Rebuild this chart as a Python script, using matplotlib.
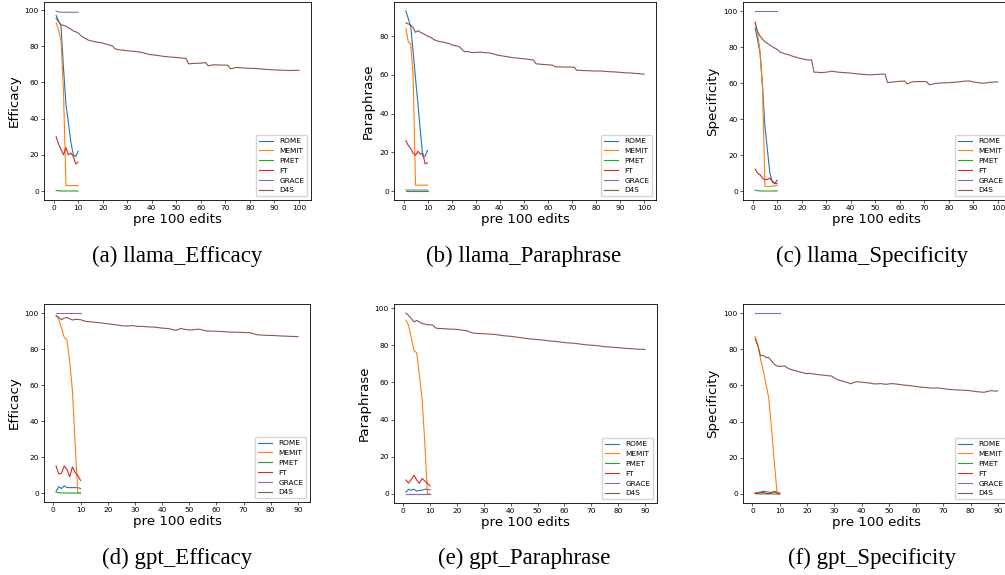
import numpy as np
import matplotlib
matplotlib.use("Agg")
import matplotlib.pyplot as plt

# methods, in drawing order
methods = ["ROME", "MEMIT", "PMET", "FT", "GRACE", "D4S"]
colors = ["tab:blue", "tab:orange", "tab:green", "tab:red", "tab:purple", "tab:brown"]

# ---- llama: short runs (10 points) ----
rome_llama_eff = [97, 94, 91, 68, 48, 38, 27, 20, 19, 22]
memit_llama_eff = [93, 89, 83, 55, 3, 3, 3, 3, 3, 3]
pmet_llama_eff = [0.3, 0.1, 0, 0, 0, 0, 0, 0, 0, 0]
ft_llama_eff = [30, 26, 23, 20, 24, 20, 21, 19, 15, 16]
grace_llama_eff = [99.5, 99, 98.8, 98.8, 98.8, 98.8, 98.8, 98.8, 98.8, 98.8]

rome_llama_para = [93, 89, 85, 72, 58, 45, 31, 18, 18, 21]
memit_llama_para = [84, 77, 76, 60, 3, 3, 3, 3, 3, 3]
pmet_llama_para = [0, 0, 0, 0, 0, 0, 0, 0, 0, 0]
ft_llama_para = [26, 23.5, 22, 19.5, 18.5, 20.5, 19, 19.5, 14, 14.5]
grace_llama_para = [0.6, 0.5, 0.5, 0.5, 0.5, 0.5, 0.5, 0.5, 0.5, 0.5]

rome_llama_spec = [90.5, 84, 76.5, 58, 36, 23, 10, 5, 4.5, 4]
memit_llama_spec = [94, 88, 77.5, 59, 2.5, 2.5, 2.5, 2.8, 2.8, 3]
pmet_llama_spec = [0.5, 0.2, 0, 0, 0, 0, 0, 0, 0, 0]
ft_llama_spec = [12.2, 10, 9, 7.2, 6.3, 6.4, 7.2, 5.4, 4, 6]
grace_llama_spec = [100, 100, 100, 100, 100, 100, 100, 100, 100, 100]

# ---- llama: D4S (100 points) ----
d4s_llama_eff = [
    95.5, 93.5, 92.0, 91.5, 91.2, 90.2, 89.5, 88.5, 88.0, 87.3,
    86.0, 85.0, 84.3, 83.5, 83.0, 82.8, 82.5, 82.2, 82.0, 81.8,
    81.3, 81.0, 80.5, 80.2, 78.6, 78.3, 78.0, 77.8, 77.7, 77.5,
    77.4, 77.3, 77.2, 77.0, 76.8, 76.6, 76.2, 75.8, 75.5, 75.3,
    75.2, 75.0, 74.8, 74.6, 74.4, 74.3, 74.1, 74.0, 73.9, 73.8,
    73.7, 73.5, 73.4, 73.3, 70.3, 70.4, 70.5, 70.6, 70.6, 70.7,
    70.8, 71.0, 69.2, 69.4, 69.8, 69.7, 69.7, 69.6, 69.6, 69.6,
    69.5, 67.6, 67.8, 68.2, 68.3, 68.2, 68.0, 68.0, 67.9, 67.8,
    67.8, 67.7, 67.6, 67.6, 67.4, 67.3, 67.2, 67.1, 67.0, 67.0,
    66.9, 66.8, 66.8, 66.7, 66.7, 66.6, 66.6, 66.7, 66.7, 66.7,
]
d4s_llama_para = [
    86.9, 86.3, 85.7, 84.5, 82.0, 82.8, 82.0, 81.4, 80.8, 80.0,
    79.5, 78.8, 78.0, 77.6, 77.2, 77.0, 76.8, 76.4, 76.2, 75.6,
    75.2, 75.0, 74.6, 73.6, 72.2, 72.0, 72.0, 71.6, 71.5, 71.6,
    71.7, 71.8, 71.6, 71.5, 71.4, 71.2, 71.0, 70.6, 70.2, 70.0,
    69.8, 69.6, 69.4, 69.2, 69.0, 68.8, 68.7, 68.6, 68.4, 68.3,
    68.2, 68.0, 67.8, 67.7, 65.8, 65.6, 65.5, 65.4, 65.3, 65.2,
    65.1, 65.0, 64.2, 64.1, 64.2, 64.1, 64.0, 64.0, 64.1, 64.0,
    63.9, 62.3, 62.4, 62.3, 62.2, 62.2, 62.1, 62.1, 62.0, 62.0,
    62.0, 62.0, 61.9, 61.8, 61.7, 61.6, 61.6, 61.5, 61.4, 61.3,
    61.2, 61.1, 61.0, 61.0, 60.9, 60.8, 60.7, 60.6, 60.5, 60.4,
]
d4s_llama_spec = [
    93.5, 88.5, 86.0, 84.3, 83.0, 82.0, 81.0, 80.2, 79.4, 78.7,
    77.2, 76.8, 76.3, 75.9, 75.6, 75.0, 74.6, 74.2, 73.8, 73.5,
    73.2, 72.9, 72.8, 72.9, 66.0, 66.0, 65.9, 65.8, 65.9, 66.0,
    66.2, 66.6, 66.4, 66.2, 66.0, 65.9, 65.8, 65.7, 65.6, 65.5,
    65.3, 65.2, 65.0, 64.9, 64.8, 64.7, 64.6, 64.5, 64.6, 64.7,
    64.8, 64.9, 64.9, 64.9, 60.3, 60.4, 60.5, 60.7, 60.8, 61.0,
    61.0, 61.1, 59.5, 60.0, 60.6, 60.7, 60.8, 60.8, 60.8, 60.8,
    60.7, 59.0, 59.3, 59.6, 59.8, 60.0, 60.0, 60.1, 60.1, 60.2,
    60.3, 60.4, 60.5, 60.6, 60.8, 61.0, 61.1, 61.1, 61.0, 60.6,
    60.4, 60.2, 60.0, 59.9, 60.0, 60.2, 60.4, 60.5, 60.6, 60.6,
]

# ---- gpt: short runs (10 points) ----
rome_gpt_eff = [1, 3.5, 2.5, 4, 3, 3, 3, 3, 3, 2.5]
memit_gpt_eff = [98.5, 96.5, 91.5, 86.5, 85, 73, 57, 28, 0, 0]
pmet_gpt_eff = [0.5, 0.2, 0, 0, 0, 0, 0, 0, 0, 0]
ft_gpt_eff = [15, 10.5, 11, 15, 13, 9, 14.5, 11.5, 9.5, 7]
grace_gpt_eff = [100, 100, 100, 100, 100, 100, 100, 100, 100, 100]

rome_gpt_para = [1, 2.5, 2, 2.5, 1.5, 2, 2, 2.5, 2.5, 2.2]
memit_gpt_para = [93.5, 90.5, 84, 77, 76, 64, 51, 28, 0, 0]
pmet_gpt_para = [0, 0, 0, 0, 0, 0, 0, 0, 0, 0]
ft_gpt_para = [7.5, 5.8, 8, 10, 7.5, 5.7, 8.4, 7, 5.8, 4.3]
grace_gpt_para = [0, 0, 0, 0, 0, 0, 0, 0, 0, 0]

rome_gpt_spec = [0.5, 0.8, 1, 1.5, 1.2, 1, 0.8, 1.2, 1, 0.5]
memit_gpt_spec = [87, 82.5, 74.5, 68, 60.5, 53, 36.5, 18, 1.3, 0.3]
pmet_gpt_spec = [0.2, 0, 0, 0, 0, 0, 0, 0, 0, 0]
ft_gpt_spec = [0.3, 0.5, 0.6, 0.8, 0.3, 0.2, 0.5, 1.5, 0.3, 0]
grace_gpt_spec = [100, 100, 100, 100, 100, 100, 100, 100, 100, 100]

# ---- gpt: D4S (90 points) ----
d4s_gpt_eff = [
    98.5, 97.6, 96.3, 97.2, 97.5, 96.8, 96.1, 96.5, 96.4, 96.3,
    95.8, 95.3, 95.2, 95.0, 94.9, 94.7, 94.6, 94.4, 94.2, 94.0,
    93.8, 93.6, 93.4, 93.2, 93.0, 92.8, 92.8, 92.9, 93.0, 92.8,
    92.6, 92.6, 92.5, 92.4, 92.3, 92.2, 92.2, 92.0, 91.8, 91.6,
    91.5, 91.4, 91.1, 90.8, 90.3, 90.9, 91.4, 91.0, 90.8, 90.6,
    90.6, 90.8, 91.0, 90.9, 90.5, 90.1, 90.0, 90.0, 89.9, 89.8,
    89.8, 89.7, 89.6, 89.5, 89.4, 89.4, 89.3, 89.3, 89.2, 89.2,
    89.1, 89.1, 88.8, 88.3, 87.9, 87.8, 87.7, 87.6, 87.6, 87.5,
    87.5, 87.4, 87.3, 87.2, 87.2, 87.1, 87.0, 87.0, 86.9, 86.9,
]
d4s_gpt_para = [
    97.3, 96.0, 94.3, 92.5, 93.4, 92.5, 91.7, 91.4, 91.0, 91.0,
    90.8, 89.3, 89.0, 89.0, 88.9, 88.8, 88.7, 88.6, 88.6, 88.5,
    88.3, 88.1, 87.9, 87.6, 87.0, 86.5, 86.4, 86.3, 86.2, 86.2,
    86.1, 86.0, 85.9, 85.8, 85.6, 85.4, 85.2, 85.0, 84.9, 84.8,
    84.6, 84.4, 84.2, 84.0, 83.8, 83.6, 83.4, 83.3, 83.2, 83.0,
    82.9, 82.8, 82.6, 82.4, 82.2, 82.1, 82.0, 81.8, 81.6, 81.4,
    81.3, 81.2, 81.1, 81.0, 80.8, 80.6, 80.4, 80.2, 80.1, 80.0,
    79.9, 79.8, 79.6, 79.4, 79.2, 79.1, 79.0, 78.9, 78.8, 78.7,
    78.6, 78.4, 78.3, 78.2, 78.1, 78.0, 77.9, 77.8, 77.8, 77.7,
]
d4s_gpt_spec = [
    85.6, 81.9, 76.3, 76.7, 75.4, 75.4, 73.5, 71.7, 70.7, 70.5,
    70.6, 70.7, 69.5, 68.9, 68.4, 68.0, 67.6, 67.2, 66.8, 66.5,
    66.7, 66.4, 66.2, 66.0, 65.8, 65.7, 65.5, 65.3, 65.2, 64.2,
    63.3, 62.8, 62.4, 62.0, 61.5, 60.9, 61.5, 62.0, 62.0, 61.8,
    61.6, 61.5, 61.3, 61.0, 60.8, 60.9, 61.0, 60.8, 60.6, 60.8,
    61.0, 60.9, 60.7, 60.5, 60.3, 60.1, 60.0, 59.8, 59.6, 59.4,
    59.2, 59.0, 58.9, 58.8, 58.6, 58.5, 58.5, 58.6, 58.4, 58.2,
    58.0, 57.8, 57.7, 57.6, 57.5, 57.4, 57.4, 57.3, 57.2, 57.0,
    56.8, 56.6, 56.4, 56.3, 56.2, 56.6, 57.0, 57.1, 56.8, 57.0,
]

ylabels = ["Efficacy", "Paraphrase", "Specificity"]
captions = ["(a) llama_Efficacy", "(b) llama_Paraphrase", "(c) llama_Specificity",
            "(d) gpt_Efficacy", "(e) gpt_Paraphrase", "(f) gpt_Specificity"]

panels = [
    [rome_llama_eff, memit_llama_eff, pmet_llama_eff, ft_llama_eff, grace_llama_eff, d4s_llama_eff],
    [rome_llama_para, memit_llama_para, pmet_llama_para, ft_llama_para, grace_llama_para, d4s_llama_para],
    [rome_llama_spec, memit_llama_spec, pmet_llama_spec, ft_llama_spec, grace_llama_spec, d4s_llama_spec],
    [rome_gpt_eff, memit_gpt_eff, pmet_gpt_eff, ft_gpt_eff, grace_gpt_eff, d4s_gpt_eff],
    [rome_gpt_para, memit_gpt_para, pmet_gpt_para, ft_gpt_para, grace_gpt_para, d4s_gpt_para],
    [rome_gpt_spec, memit_gpt_spec, pmet_gpt_spec, ft_gpt_spec, grace_gpt_spec, d4s_gpt_spec],
]

W, H = 1005, 575
# axes boxes in pixels: left, top, right, bottom
boxes = [
    (44, 2, 311, 200), (394, 2, 656, 200), (743, 2, 1010, 200),
    (44, 304, 310, 502), (394, 304, 657, 503), (743, 304, 1010, 503),
]
caption_y = [256, 256, 256, 558, 558, 558]
caption_x = [177, 524, 872, 177, 524, 872]

fig = plt.figure(figsize=(W / 100, H / 100), dpi=100)

for i, series in enumerate(panels):
    l, t, r, b = boxes[i]
    ax = fig.add_axes([l / W, 1 - b / H, (r - l) / W, (b - t) / H])
    for name, c, vals in zip(methods, colors, series):
        x = np.arange(1, len(vals) + 1)
        ax.plot(x, vals, color=c, lw=0.8, label=name)
    n = len(series[-1])
    ax.set_xticks(np.arange(0, n + 1, 10))
    ax.tick_params(labelsize=5.3, length=1.9, width=0.45, pad=1.8)
    for s in ax.spines.values():
        s.set_linewidth(0.6)
    ax.set_xlabel("pre 100 edits", fontsize=9.6, labelpad=1.5)
    ax.set_ylabel(ylabels[i % 3], fontsize=9.6, labelpad=3)
    ax.legend(loc="lower right", fontsize=5.3, frameon=True, framealpha=0.8,
              edgecolor="#cccccc", fancybox=True)
    fig.text(caption_x[i] / W, 1 - caption_y[i] / H, captions[i],
             ha="center", va="center", fontsize=16.5, family="Liberation Serif")

fig.savefig("out.png", dpi=100)
